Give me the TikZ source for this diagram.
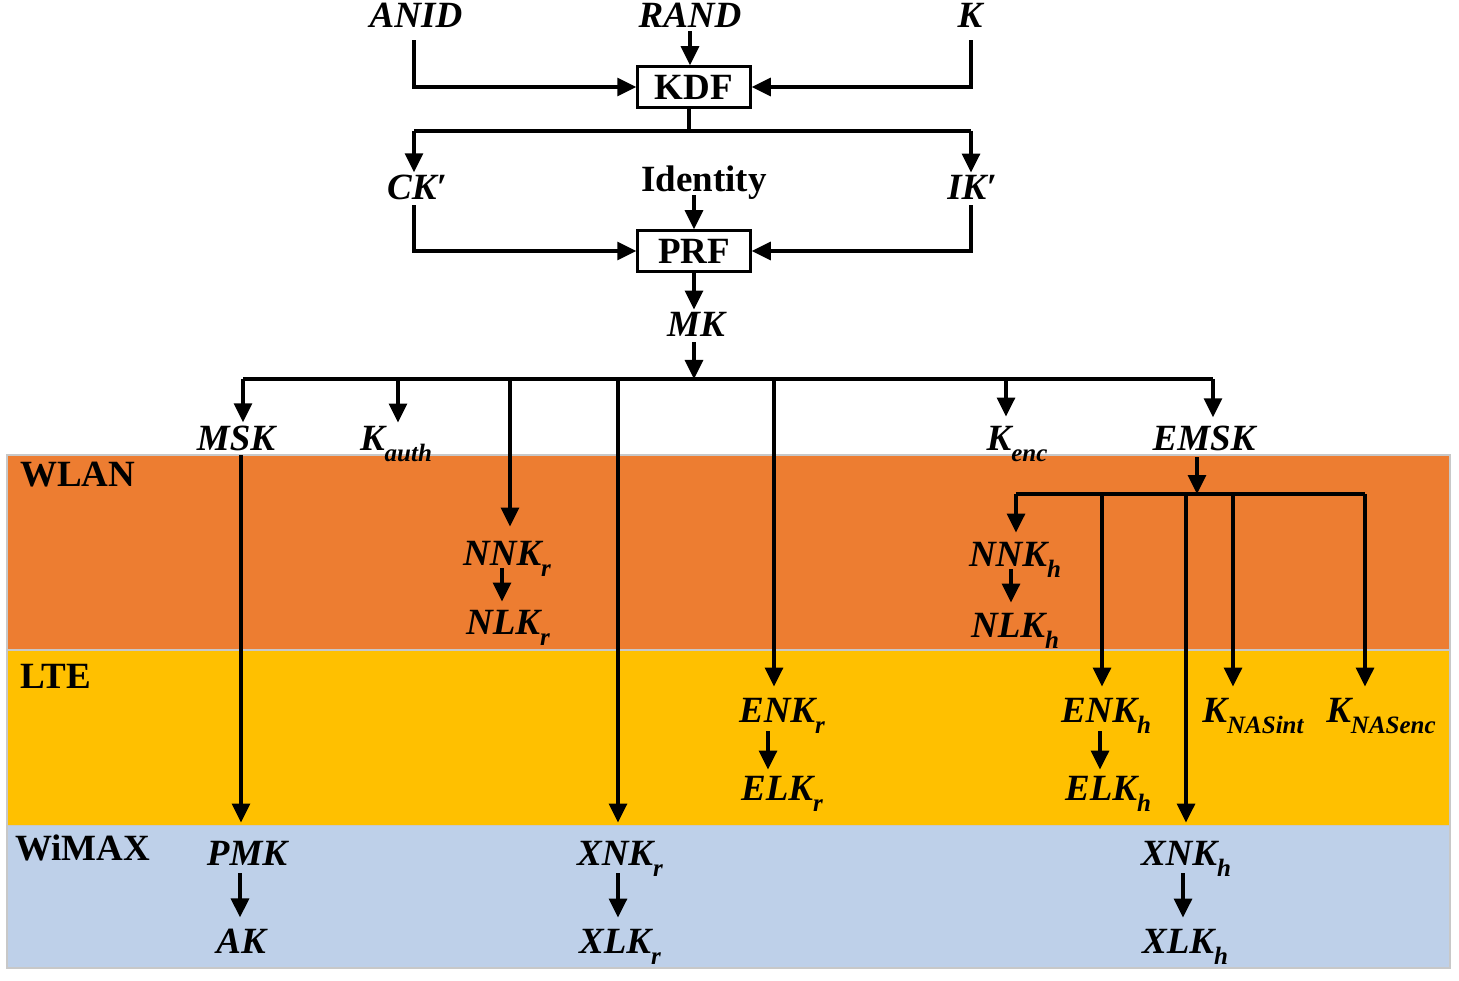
\documentclass[tikz,border=0pt]{standalone}
\usepackage{fontspec}
\setmainfont{LiberationSerif}[Extension=.ttf, UprightFont=*-Regular, BoldFont=*-Bold, ItalicFont=*-Italic, BoldItalicFont=*-BoldItalic]
\usetikzlibrary{arrows.meta}
\definecolor{wlancol}{RGB}{237,125,49}
\definecolor{ltecol}{RGB}{255,192,0}
\definecolor{wimaxcol}{RGB}{190,208,233}
\definecolor{edgecol}{RGB}{200,200,200}
\newcommand{\ksub}[1]{\raisebox{-0.30em}{\fontsize{25}{25}\selectfont #1}}
\begin{document}
\begin{tikzpicture}[x=1pt,y=-1pt,
  lbl/.style={font=\fontsize{37}{40}\selectfont\bfseries\itshape, inner sep=3pt, text depth=0pt, anchor=base},
  plain/.style={font=\fontsize{37}{40}\selectfont\bfseries, inner sep=3pt, text depth=0pt, anchor=base},
  fbox/.style={draw, line width=2.5pt, minimum width=113pt, minimum height=41pt, inner sep=0pt, font=\fontsize{37}{40}\selectfont\bfseries},
  bandlbl/.style={font=\fontsize{37}{40}\selectfont\bfseries, anchor=base west, inner sep=0pt},
  ln/.style={line width=3.2pt},
  arr/.style={ln, -{Triangle[length=19pt,width=18pt]}},
]
\useasboundingbox (0,0) rectangle (1459,981);
% bands
\fill[wimaxcol] (7,825) rectangle (1450,968);
\fill[ltecol] (7,650) rectangle (1450,825);
\fill[wlancol] (7,455) rectangle (1450,650);
\draw[edgecol, line width=2pt] (7,455) rectangle (1450,968);
\draw[edgecol, line width=2pt] (7,650) -- (1450,650);
\draw[edgecol, line width=1pt] (7,825) -- (1450,825);
\node[bandlbl] (wlan) at (20,486) {WLAN};
\node[bandlbl] (lte) at (20,688) {LTE};
\node[bandlbl] (wimax) at (15,860) {WiMAX};

% top part
\node[lbl] (ANID) at (416,28) {ANID};
\node[lbl] (RAND) at (690,28) {RAND};
\node[lbl] (K) at (970,28) {K};
\node[fbox] (KDF) at (694,87) {KDF};
\node[lbl] (CK) at (417,200) {CK′};
\node[plain] (Identity) at (704,192) {Identity};
\node[lbl] (IK) at (972,200) {IK′};
\node[fbox] (PRF) at (694,251) {PRF};
\node[lbl] (MK) at (696,337) {MK};

% second level
\node[lbl] (MSK) at (236,450) {MSK};
\node[lbl] (Kauth) at (396,450) {K\ksub{auth}};
\node[lbl] (Kenc) at (1017,450) {K\ksub{enc}};
\node[lbl] (EMSK) at (1204,450) {EMSK};

% WLAN
\node[lbl] (NNKr) at (507,565) {NNK\ksub{r}};
\node[lbl] (NLKr) at (508,634) {NLK\ksub{r}};
\node[lbl] (NNKh) at (1015,566) {NNK\ksub{h}};
\node[lbl] (NLKh) at (1015,637) {NLK\ksub{h}};

% LTE
\node[lbl] (ENKr) at (782,722) {ENK\ksub{r}};
\node[lbl] (ELKr) at (782,800) {ELK\ksub{r}};
\node[lbl] (ENKh) at (1106,722) {ENK\ksub{h}};
\node[lbl] (ELKh) at (1108,800) {ELK\ksub{h}};
\node[lbl] (KNASint) at (1253,722) {K\ksub{NASint}};
\node[lbl] (KNASenc) at (1381,722) {K\ksub{NASenc}};

% WiMAX
\node[lbl] (PMK) at (247,865) {PMK};
\node[lbl] (AK) at (241,953) {AK};
\node[lbl] (XNKr) at (620,865) {XNK\ksub{r}};
\node[lbl] (XLKr) at (620,953) {XLK\ksub{r}};
\node[lbl] (XNKh) at (1186,865) {XNK\ksub{h}};
\node[lbl] (XLKh) at (1185,953) {XLK\ksub{h}};

% coordinates
\coordinate (s1) at (689,131);
\coordinate (s1L) at (414,131);
\coordinate (s1R) at (971,131);
\coordinate (bus) at (694,379);
\coordinate (bL) at (243,379);
\coordinate (bR) at (1213,379);
\coordinate (d2) at (398,379);
\coordinate (d3) at (510,379);
\coordinate (d4) at (618,379);
\coordinate (d5) at (774,379);
\coordinate (d6) at (1006,379);
\coordinate (sb) at (1197,494);
\coordinate (sbL) at (1016,494);
\coordinate (sbR) at (1365,494);
\coordinate (e2) at (1102,494);
\coordinate (e3) at (1186,494);
\coordinate (e4) at (1233,494);

% connectors top
\draw[arr, shorten <=9pt] ([xshift=-2pt]ANID.south) |- (KDF.west);
\draw[arr] (RAND.south) -- (RAND.south |- KDF.north);
\draw[arr, shorten <=9pt] ([xshift=1pt]K.south) |- (KDF.east);
\draw[ln] (KDF.south -| s1) -- (s1);
\draw[ln] (s1L) -- (s1R);
\draw[arr] (s1L) -- (s1L |- CK.north);
\draw[arr] (s1R) -- (s1R |- IK.north);
\draw[arr, shorten <=2pt] ([xshift=-3pt]CK.south) |- (PRF.west);
\draw[arr] (Identity.south -| PRF.north) -- (PRF.north);
\draw[arr, shorten <=2pt] ([xshift=-1pt]IK.south) |- (PRF.east);
\draw[arr] (PRF.south) -- (PRF.south |- MK.north);
\draw[arr, shorten <=2pt] (MK.south -| bus) -- (bus);

% main bus
\draw[ln] (bL) -- (bR);
\draw[arr] (bL) -- (bL |- MSK.north);
\draw[arr] (d2) -- (d2 |- Kauth.north);
\draw[arr, shorten >=11pt] (d3) -- (d3 |- NNKr.north);
\draw[arr, shorten >=15pt] (d4) -- (d4 |- XNKr.north);
\draw[arr, shorten >=8pt] (d5) -- (d5 |- ENKr.north);
\draw[arr, shorten >=6pt] (d6) -- (d6 |- Kenc.north);
\draw[arr, shorten >=5pt] (bR) -- (bR |- EMSK.north);
\draw[arr, shorten <=2pt, shorten >=15pt] ([xshift=5pt]MSK.south) -- ([xshift=5pt]MSK.south |- PMK.north);

% EMSK bus
\draw[arr, shorten <=4pt] (EMSK.south -| sb) -- (sb);
\draw[ln] (sbL) -- (sbR);
\draw[arr, shorten >=6pt] (sbL) -- (sbL |- NNKh.north);
\draw[arr, shorten >=8pt] (e2) -- (e2 |- ENKh.north);
\draw[arr, shorten >=15pt] (e3) -- (e3 |- XNKh.north);
\draw[arr, shorten >=8pt] (e4) -- (e4 |- KNASint.north);
\draw[arr, shorten >=8pt] (sbR) -- (sbR |- KNASenc.north);

% short derivations
\draw[arr, shorten >=5pt] ([xshift=-5pt]NNKr.south) -- ([xshift=-5pt]NNKr.south |- NLKr.north);
\draw[arr, shorten >=7pt] ([xshift=-4pt]NNKh.south) -- ([xshift=-4pt]NNKh.south |- NLKh.north);
\draw[arr, shorten <=6pt, shorten >=3pt] ([xshift=-14pt]ENKr.south) -- ([xshift=-14pt]ENKr.south |- ELKr.north);
\draw[arr, shorten <=6pt, shorten >=3pt] ([xshift=-6pt]ENKh.south) -- ([xshift=-6pt]ENKh.south |- ELKh.north);
\draw[arr, shorten <=5pt, shorten >=8pt] ([xshift=-7pt]PMK.south) -- ([xshift=-7pt]PMK.south |- AK.north);
\draw[arr, shorten <=5pt, shorten >=8pt] ([xshift=-2pt]XNKr.south) -- ([xshift=-2pt]XNKr.south |- XLKr.north);
\draw[arr, shorten <=5pt, shorten >=8pt] ([xshift=-3pt]XNKh.south) -- ([xshift=-3pt]XNKh.south |- XLKh.north);
\end{tikzpicture}
\end{document}
